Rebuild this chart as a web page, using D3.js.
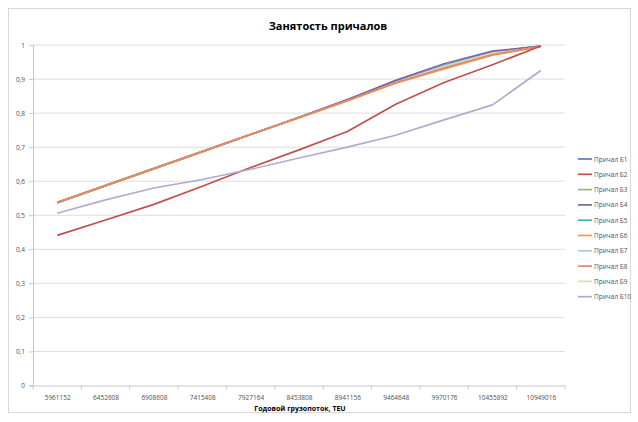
<!DOCTYPE html>
<html><head><meta charset="utf-8">
<script src="https://cdn.jsdelivr.net/npm/d3@7"></script>
<style>body{margin:0;background:#fff}svg{display:block}text{font-family:"Open Sans","Liberation Sans",sans-serif}</style>
</head><body><svg id="c" width="638" height="422"></svg>
<script>
const categories = ["5961152","6452608","6908608","7415408","7927164","8453808","8941156","9464648","9970176","10455892","10949016"];
const seriesNames = ["Причал Б1","Причал Б2","Причал Б3","Причал Б4","Причал Б5","Причал Б6","Причал Б7","Причал Б8","Причал Б9","Причал Б10"];
const seriesColors = ["#4F81BD","#C0504D","#9BBB59","#8064A2","#4BACC6","#F79646","#A9C4E4","#DE8A6E","#D3DDB0","#B4A9CF"];
const b1  = [0.537,0.587,0.637,0.687,0.737,0.787,0.838,0.892,0.939,0.979,0.997];
const b2  = [0.441,0.486,0.532,0.585,0.640,0.692,0.746,0.826,0.890,0.942,0.997];
const b3  = [0.537,0.587,0.637,0.687,0.737,0.787,0.838,0.891,0.937,0.977,0.997];
const b4  = [0.537,0.587,0.637,0.687,0.737,0.788,0.840,0.896,0.945,0.982,0.997];
const b5  = [0.537,0.587,0.637,0.687,0.737,0.787,0.838,0.892,0.939,0.979,0.997];
const b6  = [0.537,0.587,0.637,0.687,0.737,0.786,0.836,0.888,0.930,0.970,0.995];
const b7  = [0.537,0.587,0.637,0.687,0.737,0.787,0.838,0.891,0.938,0.978,0.997];
const b8  = [0.538,0.588,0.638,0.688,0.738,0.787,0.837,0.889,0.932,0.972,0.996];
const b9  = [0.537,0.587,0.637,0.687,0.737,0.787,0.837,0.890,0.936,0.976,0.997];
const b10 = [0.506,0.545,0.580,0.605,0.635,0.668,0.700,0.735,0.780,0.824,0.925];
const yTicks = [0,0.1,0.2,0.3,0.4,0.5,0.6,0.7,0.8,0.9,1];
const series = [b1,b2,b3,b4,b5,b6,b7,b8,b9,b10];
const drawOrder = [0,2,4,6,8,3,5,7,1,9];

const svg = d3.select("#c");
svg.append("rect").attr("x",8.5).attr("y",8.5).attr("width",622).attr("height",404)
  .attr("fill","#fff").attr("stroke","#d9d9d9");

const pLeft = 33, pRight = 565, pTop = 45, pBottom = 385.5;
const x = d3.scalePoint().domain(categories).range([pLeft, pRight]).padding(0.5);
const y = d3.scaleLinear().domain([0,1]).range([pBottom, pTop]);

svg.append("g").selectAll("line").data(yTicks.filter(d=>d>0)).join("line")
  .attr("x1",pLeft).attr("x2",pRight).attr("y1",d=>y(d)).attr("y2",d=>y(d))
  .attr("stroke","#dcdcdc").attr("stroke-width",1);

const yAxis = svg.append("g").attr("transform",`translate(${pLeft},0)`)
  .call(d3.axisLeft(y).tickValues(yTicks).tickSize(4).tickFormat(d=> d3.format(".1~f")(d).replace(".",",")));
yAxis.select(".domain").attr("stroke","#c8c8c8");
yAxis.selectAll(".tick line").attr("stroke","#c8c8c8");
yAxis.selectAll("text").attr("font-size",6.5).attr("fill","#505050").attr("x",-8);

const step = x.step();
const xAxis = svg.append("g").attr("transform",`translate(0,${pBottom})`)
  .call(d3.axisBottom(x).tickSize(0).tickPadding(10));
xAxis.select(".domain").attr("stroke","#c8c8c8");
xAxis.selectAll("text").attr("font-size",6.5).attr("fill","#505050");
xAxis.append("g").selectAll("line").data(d3.range(categories.length+1)).join("line")
  .attr("x1",i=>pLeft+i*step).attr("x2",i=>pLeft+i*step).attr("y1",0).attr("y2",4)
  .attr("stroke","#c8c8c8");

const line = d3.line().x((d,i)=>x(categories[i])).y(d=>y(d));
svg.append("g").selectAll("path").data(drawOrder).join("path")
  .attr("d",i=>line(series[i])).attr("fill","none")
  .attr("stroke",i=>seriesColors[i]).attr("stroke-width",1.7).attr("stroke-linejoin","round");

svg.append("text").attr("x",328).attr("y",30).attr("text-anchor","middle")
  .attr("font-size",11).attr("font-weight","bold").attr("fill","#000").text("Занятость причалов");
svg.append("text").attr("x",300).attr("y",411).attr("text-anchor","middle")
  .attr("font-size",7).attr("font-weight","bold").attr("fill","#000").text("Годовой грузопоток, TEU");

const lg = svg.append("g").selectAll("g").data(seriesNames).join("g")
  .attr("transform",(d,i)=>`translate(578,${159+i*15.3})`);
lg.append("line").attr("x1",0).attr("x2",14).attr("y1",0).attr("y2",0)
  .attr("stroke",(d,i)=>seriesColors[i]).attr("stroke-width",1.7);
lg.append("text").attr("x",16).attr("y",2.5).attr("font-size",6.5).attr("fill","#505050").text(d=>d);
</script></body></html>
